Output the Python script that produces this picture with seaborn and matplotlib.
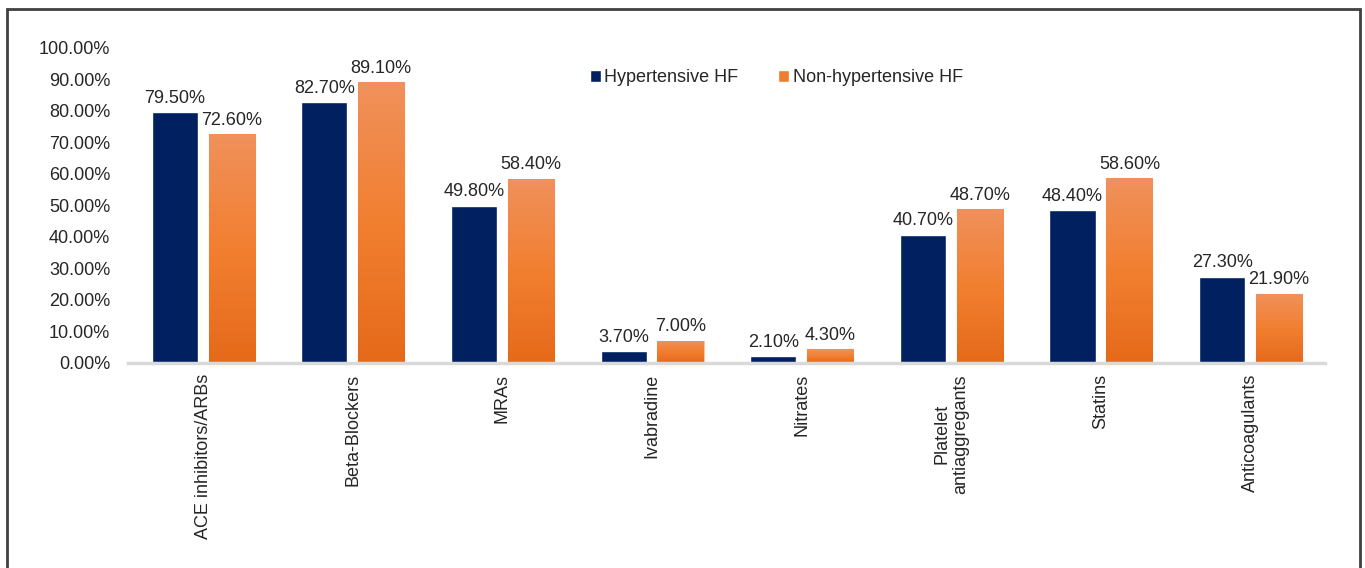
import numpy as np
import pandas as pd
import seaborn as sns
import matplotlib.pyplot as plt
from matplotlib.patches import Rectangle

# data
drugs = ["ACE inhibitors/ARBs", "Beta-Blockers", "MRAs", "Ivabradine", "Nitrates",
         "Platelet\nantiaggregants", "Statins", "Anticoagulants"]
hypertensive = [79.5, 82.7, 49.8, 3.7, 2.1, 40.7, 48.4, 27.3]
non_hypertensive = [72.6, 89.1, 58.4, 7.0, 4.3, 48.7, 58.6, 21.9]
groups = ["Hypertensive HF", "Non-hypertensive HF"]

df = pd.DataFrame({
    "drug": drugs * 2,
    "value": hypertensive + non_hypertensive,
    "group": [groups[0]] * len(drugs) + [groups[1]] * len(drugs),
})

navy = "#002060"
orange = "#ED7D31"

sns.set_style("white")
plt.rcParams['font.family'] = ['Liberation Sans', 'DejaVu Sans']
fs = 13

fig = plt.figure(figsize=(13.65, 5.68), dpi=100)
ax = fig.add_axes([0.094, 0.361, 0.877, 0.555])

sns.barplot(data=df, x="drug", y="value", hue="group", order=drugs,
            hue_order=groups, palette=[navy, orange], saturation=1,
            width=0.76, gap=0.19, ax=ax, legend=True)

# gradient on the orange bars
grad = np.linspace(0, 1, 256).reshape(-1, 1)
cmap = plt.matplotlib.colors.LinearSegmentedColormap.from_list("og", ["#E56A1A", "#F27F30", "#F0915C"])
for bar in ax.containers[1]:
    x0, y0 = bar.get_x(), bar.get_y()
    w, h = bar.get_width(), bar.get_height()
    bar.set_edgecolor("#F6C5A5")
    bar.set_linewidth(0.8)
    im = ax.imshow(grad, extent=[x0, x0 + w, y0, y0 + h], origin="lower",
                   cmap=cmap, aspect="auto", zorder=bar.get_zorder() + 0.1)
    im.set_clip_path(bar)

for cont in ax.containers:
    ax.bar_label(cont, labels=[f"{v:.2f}%" for v in cont.datavalues],
                 padding=4, fontsize=fs)

ax.set_xlim(-0.5, len(drugs) - 0.5)
ax.set_ylim(0, 100)
ax.set_yticks(np.arange(0, 101, 10))
ax.set_yticklabels([f"{v:.2f}%" for v in np.arange(0, 101, 10)], fontsize=fs)
ax.set_xticks(range(len(drugs)))
ax.set_xticklabels(drugs, rotation=90, fontsize=fs, va="top", ha="center",
                   multialignment="center")
ax.tick_params(axis="y", length=0, pad=13)
ax.tick_params(axis="x", length=0, pad=8)
ax.set_xlabel("")
ax.set_ylabel("")

for s in ["top", "right", "left"]:
    ax.spines[s].set_visible(False)
ax.spines["bottom"].set_color("#D9D9D9")
ax.spines["bottom"].set_linewidth(2.5)

ax.legend(loc="center left", bbox_to_anchor=(0.372, 0.905), ncol=2, frameon=False,
          fontsize=fs, handlelength=0.6, handleheight=0.6, handletextpad=0.2,
          columnspacing=2.2)

# figure border
fig.patches.append(Rectangle((0.005, -0.02), 0.991, 1.005, transform=fig.transFigure,
                             fill=False, edgecolor="#404040", linewidth=2))

fig.savefig("out.png", dpi=100)
